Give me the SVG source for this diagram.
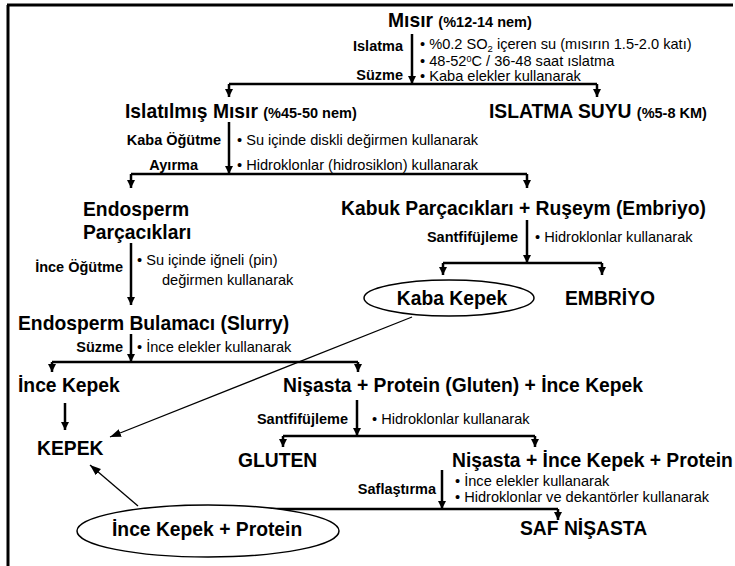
<svg xmlns="http://www.w3.org/2000/svg" width="735" height="566" viewBox="0 0 735 566">
<defs>
<style>
text{font-family:"Liberation Sans",Arial,sans-serif;fill:#000}
.m{font-size:19.3px;font-weight:bold}
.s{font-size:14.5px;font-weight:bold}
.l{font-size:14.5px;font-weight:bold;text-anchor:end}
.b{font-size:14.6px}
.ln{stroke:#000;stroke-width:2.5;fill:none}
.th{stroke:#000;stroke-width:1.3;fill:none}
.el{stroke:#000;stroke-width:1.5;fill:#fff}
</style>
<marker id="ah" markerUnits="userSpaceOnUse" markerWidth="9" markerHeight="9" refX="8" refY="4" orient="auto">
<path d="M0,0 L8,4 L0,8 z" fill="#000"/>
</marker>
<marker id="ah2" markerUnits="userSpaceOnUse" markerWidth="12" markerHeight="10" refX="11" refY="4" orient="auto">
<path d="M0,0 L11,4 L0,8 z" fill="#000"/>
</marker>
</defs>
<rect width="735" height="566" fill="#fff"/>
<path d="M7,5 H733 M8,5 V566" stroke="#000" stroke-width="3" fill="none"/>

<g id="connectors">
<path class="ln" marker-end="url(#ah)" d="M412,34 V84"/>
<path class="ln" d="M229,84 H597"/>
<path class="ln" marker-end="url(#ah)" d="M229,84 V97"/>
<path class="ln" marker-end="url(#ah)" d="M597,84 V97"/>

<path class="ln" marker-end="url(#ah)" d="M229,122 V174"/>
<path class="ln" d="M131,174 H527"/>
<path class="ln" marker-end="url(#ah)" d="M131,174 V188"/>
<path class="ln" marker-end="url(#ah)" d="M527,174 V188"/>

<path class="ln" marker-end="url(#ah)" d="M527,220 V263"/>
<path class="ln" d="M443,263 H602"/>
<path class="ln" marker-end="url(#ah)" d="M443,263 V275"/>
<path class="ln" marker-end="url(#ah)" d="M602,263 V275"/>

<path class="ln" marker-end="url(#ah)" d="M131,243 V305"/>

<path class="ln" marker-end="url(#ah)" d="M131,334 V362"/>
<path class="ln" d="M52,362 H358"/>
<path class="ln" marker-end="url(#ah)" d="M52,362 V372"/>
<path class="ln" marker-end="url(#ah)" d="M358,362 V372"/>

<path class="ln" marker-end="url(#ah)" d="M65,403 V430"/>

<path class="ln" marker-end="url(#ah)" d="M357,400 V436"/>
<path class="ln" d="M283,436 H535"/>
<path class="ln" marker-end="url(#ah)" d="M283,436 V447"/>
<path class="ln" marker-end="url(#ah)" d="M535,436 V447"/>

<path class="ln" marker-end="url(#ah)" d="M442,470 V509"/>
<path class="ln" d="M223,509 H558"/>
<path class="ln" marker-end="url(#ah)" d="M223,509 V520"/>
<path class="ln" marker-end="url(#ah)" d="M558,509 V520"/>

<path class="th" marker-end="url(#ah2)" d="M412,317 L110,437"/>
<path class="th" marker-end="url(#ah2)" d="M138,506 L90,465"/>
</g>

<g id="misir">
<text class="m" x="388" y="27">Mısır <tspan class="s">(%12-14 nem)</tspan></text>
</g>
<g id="step-islatma">
<text class="l" x="403" y="51">Islatma</text>
<text class="l" x="403" y="80">Süzme</text>
<text class="b" x="420" y="49" font-size="15">• %0.2 SO<tspan font-size="9.5" dy="2.5">2</tspan><tspan dy="-2.5"> içeren su (mısırın 1.5-2.0 katı)</tspan></text>
<text class="b" x="420" y="66">• 48-52<tspan font-size="9" dy="-4">0</tspan><tspan dy="4">C / 36-48 saat ıslatma</tspan></text>
<text class="b" x="420" y="81">• Kaba elekler kullanarak</text>
</g>
<g id="islatilmis-misir">
<text class="m" x="125" y="118">Islatılmış Mısır <tspan class="s">(%45-50 nem</tspan><tspan font-size="14.5px">)</tspan></text>
</g>
<g id="islatma-suyu">
<text class="m" x="489" y="118">ISLATMA SUYU <tspan class="s">(%5-8 KM)</tspan></text>
</g>
<g id="step-kaba-ogutme">
<text class="l" x="221" y="145">Kaba Öğütme</text>
<text class="l" x="198" y="170">Ayırma</text>
<text class="b" x="237" y="145">• Su içinde diskli değirmen kullanarak</text>
<text class="b" x="237" y="170">• Hidroklonlar (hidrosiklon) kullanarak</text>
</g>
<g id="endosperm-parcaciklari">
<text class="m" x="83" y="216">Endosperm</text>
<text class="m" x="83" y="239">Parçacıkları</text>
</g>
<g id="kabuk-rusey">
<text class="m" x="341" y="215">Kabuk Parçacıkları + Ruşeym (Embriyo)</text>
</g>
<g id="step-santrifuj-1">
<text class="l" x="518" y="242">Santfifüjleme</text>
<text class="b" x="535" y="242">• Hidroklonlar kullanarak</text>
</g>
<g id="kaba-kepek">
<ellipse class="el" cx="449" cy="298" rx="85" ry="18"/>
<text class="m" x="452" y="305" text-anchor="middle">Kaba Kepek</text>
</g>
<g id="embriyo">
<text class="m" x="565" y="305">EMBRİYO</text>
</g>
<g id="step-ince-ogutme">
<text class="l" x="123" y="272">İnce Öğütme</text>
<text class="b" x="137" y="265">• Su içinde iğneli (pin)</text>
<text class="b" x="162" y="285">değirmen kullanarak</text>
</g>
<g id="endosperm-bulamaci">
<text class="m" x="18" y="330">Endosperm Bulamacı (Slurry)</text>
</g>
<g id="step-suzme-2">
<text class="l" x="123" y="352">Süzme</text>
<text class="b" x="137" y="352">• İnce elekler kullanarak</text>
</g>
<g id="ince-kepek">
<text class="m" x="18" y="392">İnce Kepek</text>
</g>
<g id="nisasta-protein-kepek">
<text class="m" x="283" y="392">Nişasta + Protein (Gluten) + İnce Kepek</text>
</g>
<g id="kepek">
<text class="m" x="37" y="455">KEPEK</text>
</g>
<g id="step-santrifuj-2">
<text class="l" x="348" y="424">Santfifüjleme</text>
<text class="b" x="372" y="424">• Hidroklonlar kullanarak</text>
</g>
<g id="gluten">
<text class="m" x="238" y="467">GLUTEN</text>
</g>
<g id="nisasta-kepek-protein">
<text class="m" x="452" y="467">Nişasta + İnce Kepek + Protein</text>
</g>
<g id="step-saflastirma">
<text class="l" x="436" y="494">Saflaştırma</text>
<text class="b" x="455" y="486">• İnce elekler kullanarak</text>
<text class="b" x="455" y="502">• Hidroklonlar ve dekantörler kullanarak</text>
</g>
<g id="ince-kepek-protein">
<ellipse class="el" cx="208" cy="531" rx="131" ry="26"/>
<text class="m" x="112" y="536">İnce Kepek + Protein</text>
</g>
<g id="saf-nisasta">
<text class="m" x="520" y="535">SAF NİŞASTA</text>
</g>
</svg>
